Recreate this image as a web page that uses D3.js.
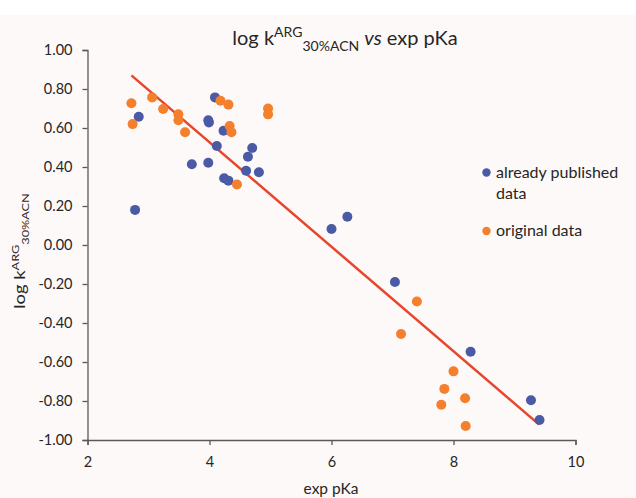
<!DOCTYPE html>
<html><head><meta charset="utf-8">
<script src="https://cdn.jsdelivr.net/npm/d3@7"></script>
<style>body{margin:0;background:#fff}text{font-family:Lato,"Open Sans",sans-serif;fill:#262626}</style>
</head><body><svg id="c" width="636" height="498"></svg>
<script>
const xTicks = [2, 4, 6, 8, 10];
const yTicks = [1.0, 0.8, 0.6, 0.4, 0.2, 0.0, -0.2, -0.4, -0.6, -0.8, -1.0];
const publishedX = [2.78, 2.84, 3.71, 3.98, 3.99, 3.98, 4.09, 4.12, 4.23, 4.24, 4.31, 4.60, 4.63, 4.70, 4.81, 6.00, 6.26, 7.04, 8.28, 9.27, 9.41];
const publishedY = [0.18, 0.658, 0.414, 0.64, 0.628, 0.422, 0.757, 0.508, 0.586, 0.342, 0.33, 0.381, 0.453, 0.497, 0.373, 0.082, 0.145, -0.19, -0.547, -0.796, -0.897];
const originalX = [2.72, 2.74, 3.06, 3.24, 3.49, 3.49, 3.60, 4.18, 4.31, 4.33, 4.36, 4.45, 4.96, 4.96, 7.14, 7.40, 8.00, 7.85, 8.19, 7.80, 8.20];
const originalY = [0.727, 0.62, 0.757, 0.697, 0.67, 0.64, 0.578, 0.74, 0.72, 0.61, 0.578, 0.31, 0.70, 0.67, -0.456, -0.29, -0.648, -0.738, -0.786, -0.819, -0.928];
const trendX = [2.72, 9.40];
const trendY = [0.87, -0.92];
const seriesNames = ["already published", "original data"];

const svg = d3.select("#c");
svg.append("rect").attr("x",0).attr("y",15).attr("width",636).attr("height",483).attr("fill","#fdf9f8");
const x = d3.scaleLinear().domain([2,10]).range([87.5,575.5]);
const y = d3.scaleLinear().domain([-1,1]).range([440,50]);
const axisColor = "#595959";
const fmtY = v => d3.format(".2f")(v).replace("\u2212","-");

const gx = svg.append("g").attr("transform",`translate(0,${y(-1)})`)
  .call(d3.axisBottom(x).tickValues(xTicks).tickSize(5).tickPadding(12).tickFormat(d3.format("d")));
const gy = svg.append("g").attr("transform",`translate(${x(2)},0)`)
  .call(d3.axisLeft(y).tickValues(yTicks).tickSize(5).tickPadding(10).tickFormat(fmtY));
[gx,gy].forEach(g=>{
  g.select(".domain").attr("stroke",axisColor).attr("stroke-width",1.3);
  g.selectAll(".tick line").attr("stroke",axisColor).attr("stroke-width",1.3);
  g.selectAll(".tick text").style("font-family","Lato").style("font-size","14.5px").attr("fill","#262626");
});

const blue = "#4a5aa5", orange = "#f47f2c", red = "#e8452c";
svg.append("line").attr("x1",x(trendX[0])).attr("y1",y(trendY[0])).attr("x2",x(trendX[1])).attr("y2",y(trendY[1]))
  .attr("stroke",red).attr("stroke-width",2.5);

svg.append("g").selectAll("circle").data(publishedX.map((d,i)=>[d,publishedY[i]])).join("circle")
  .attr("cx",d=>x(d[0])).attr("cy",d=>y(d[1])).attr("r",5).attr("fill",blue);
svg.append("g").selectAll("circle").data(originalX.map((d,i)=>[d,originalY[i]])).join("circle")
  .attr("cx",d=>x(d[0])).attr("cy",d=>y(d[1])).attr("r",5).attr("fill",orange);

// title
const t = svg.append("text").attr("x",345).attr("y",45).attr("text-anchor","middle").style("font-size","20px");
t.append("tspan").text("log k");
t.append("tspan").attr("dy",-8).style("font-size","14px").text("ARG");
t.append("tspan").attr("dy",14).style("font-size","14px").text("30%ACN");
t.append("tspan").attr("dy",-6).text(" ");
t.append("tspan").style("font-style","italic").text("vs");
t.append("tspan").text(" exp pKa");

// x title
svg.append("text").attr("x",331).attr("y",494).attr("text-anchor","middle").style("font-size","15.5px").text("exp pKa");
// y title
const yt = svg.append("text").attr("transform","translate(25,251) rotate(-90) scale(1.27,1)").attr("text-anchor","middle").style("font-size","14.5px");
yt.append("tspan").text("log k");
yt.append("tspan").attr("dy",-6).style("font-size","10px").text("ARG");
yt.append("tspan").attr("dy",10).style("font-size","10px").text("30%ACN");

// legend
const lg = svg.append("g");
lg.append("circle").attr("cx",486.5).attr("cy",172.5).attr("r",4.2).attr("fill",blue);
lg.append("text").attr("x",496).attr("y",177.5).style("font-size","16px").text(seriesNames[0]);
lg.append("text").attr("x",496).attr("y",198.5).style("font-size","16px").text("data");
lg.append("circle").attr("cx",486.5).attr("cy",231).attr("r",4.2).attr("fill",orange);
lg.append("text").attr("x",496).attr("y",236).style("font-size","16px").text(seriesNames[1]);
</script></body></html>
